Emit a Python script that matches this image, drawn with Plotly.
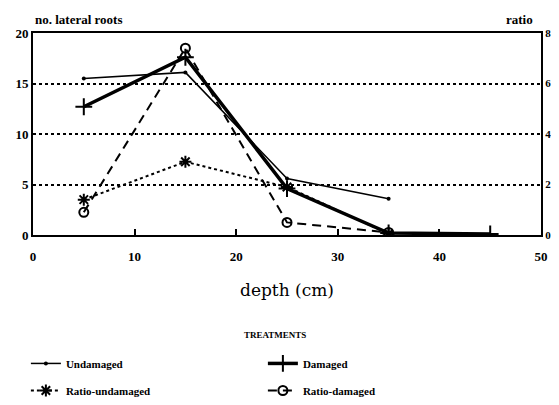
import plotly.graph_objects as go

depth = [5, 15, 25, 35, 45]
undamaged = [15.5, 16.1, 5.6, 3.6]
damaged = [12.7, 17.6, 4.6, 0.2, 0.1]
ratio_undamaged = [1.4, 2.9, 1.9, 0.05]
ratio_damaged = [0.9, 7.4, 0.5, 0.1]

left_ticks = [0, 5, 10, 15, 20]
right_ticks = [0, 2, 4, 6, 8]
x_ticks = [0, 10, 20, 30, 40, 50]

tick_font = dict(family="Liberation Serif", size=13, color="black")

fig = go.Figure()
fig.add_trace(go.Scatter(
    x=depth[:4], y=undamaged, name="<b>Undamaged</b>", mode="lines+markers",
    line=dict(color="black", width=1.5), marker=dict(symbol="circle", size=4, color="black"),
    legend="legend"))
fig.add_trace(go.Scatter(
    x=depth, y=damaged, name="<b>Damaged</b>", mode="lines+markers",
    line=dict(color="black", width=3.5),
    marker=dict(symbol="cross-thin", size=12, color="black", line=dict(width=2, color="black")),
    legend="legend"))
fig.add_trace(go.Scatter(
    x=depth[:4], y=ratio_undamaged, name="<b>Ratio-undamaged</b>", mode="lines+markers",
    line=dict(color="black", width=2, dash="3px,3px"),
    marker=dict(symbol="asterisk", size=10, color="black", line=dict(width=2, color="black")),
    yaxis="y2", legend="legend2"))
fig.add_trace(go.Scatter(
    x=depth[:4], y=ratio_damaged, name="<b>Ratio-damaged</b>", mode="lines+markers",
    line=dict(color="black", width=2, dash="9px,6px"),
    marker=dict(symbol="circle-open", size=9, color="black", line=dict(width=2, color="black")),
    yaxis="y2", legend="legend2"))

fig.update_layout(
    width=543, height=389,
    margin=dict(l=25, r=10, t=25, b=162, autoexpand=False),
    paper_bgcolor="white", plot_bgcolor="white",
    font=dict(family="Liberation Serif", color="black"),
    xaxis=dict(range=[0, 50], tickvals=x_ticks, ticktext=[f"<b>{v}</b>" for v in x_ticks],
               ticks="inside", ticklen=6, tickwidth=2, tickcolor="black", automargin=False,
               ticklabelstandoff=8, ticklabeloverflow="allow",
               showgrid=False, zeroline=False, showline=True, linecolor="black", linewidth=2,
               mirror=True, tickfont=tick_font,
               title=dict(text="depth (cm)", font=dict(family="DejaVu Serif", size=17), standoff=22)),
    yaxis=dict(range=[0, 20], tickvals=left_ticks, ticktext=[f"<b>{v}</b>" for v in left_ticks],
               ticks="", showgrid=True, gridcolor="black", gridwidth=2, griddash="dot",
               automargin=False, ticklabeloverflow="allow",
               zeroline=False, showline=True, linecolor="black", linewidth=2, tickfont=tick_font),
    yaxis2=dict(range=[0, 8], tickvals=right_ticks, ticktext=[f"<b>{v}</b>" for v in right_ticks],
                overlaying="y", side="right", ticks="", showgrid=False, zeroline=False,
                automargin=False, ticklabelstandoff=0, ticklabeloverflow="allow",
                showline=True, linecolor="black", linewidth=2,
                tickfont=dict(family="Liberation Serif", size=11, color="black")),
    legend=dict(orientation="h", x=-0.014, xanchor="left", y=-0.564, yanchor="top",
                entrywidth=192, entrywidthmode="pixels",
                font=dict(family="Liberation Serif", size=11), bgcolor="rgba(0,0,0,0)"),
    legend2=dict(orientation="h", x=-0.014, xanchor="left", y=-0.698, yanchor="top",
                 entrywidth=192, entrywidthmode="pixels",
                 font=dict(family="Liberation Serif", size=11), bgcolor="rgba(0,0,0,0)"),
    annotations=[
        dict(text="<b>no. lateral roots</b>", x=0, y=1, xref="paper", yref="paper",
             xanchor="left", yanchor="bottom", yshift=4, showarrow=False,
             font=dict(family="Liberation Serif", size=13)),
        dict(text="<b>ratio</b>", x=1, y=1, xref="paper", yref="paper",
             xanchor="right", yanchor="bottom", yshift=4, xshift=-6, showarrow=False,
             font=dict(family="Liberation Serif", size=13)),
        dict(text="<b>TREATMENTS</b>", x=0.476, y=-0.495, xref="paper", yref="paper",
             xanchor="center", yanchor="middle", showarrow=False,
             font=dict(family="Liberation Serif", size=9)),
    ],
)

fig.write_html("out.html")
